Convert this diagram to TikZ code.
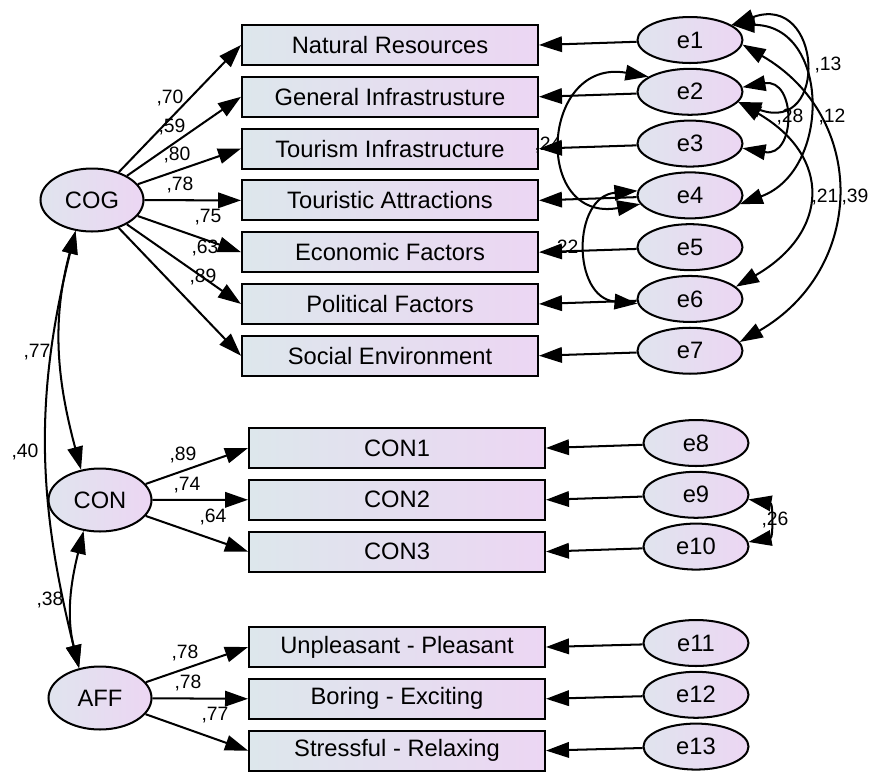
\documentclass[tikz,border=0pt]{standalone}
\usepackage{fontspec}
\setmainfont{Liberation Sans}
\usetikzlibrary{arrows.meta,positioning,shapes.geometric}

\definecolor{boxleft}{RGB}{221,231,236}
\definecolor{boxright}{RGB}{236,214,243}
\definecolor{ellleft}{RGB}{224,228,238}
\definecolor{ellright}{RGB}{236,214,243}

\begin{document}
\begin{tikzpicture}[x=0.02cm, y=0.02cm, ->, >={Triangle[length=0.46cm,width=0.31cm]}, line width=1.15pt, node distance=1.036cm,
  obs/.style = {draw, rectangle, minimum width=5.92cm, minimum height=0.8cm, left color=boxleft, right color=boxright, font=\fontsize{13.5}{16}\selectfont},
  lat/.style = {draw, ellipse, minimum width=2.06cm, minimum height=1.26cm, inner sep=0pt, left color=ellleft, right color=ellright, font=\fontsize{13.5}{16}\selectfont},
  err/.style = {draw, ellipse, minimum width=2.1cm, minimum height=0.92cm, inner sep=0pt, left color=ellleft, right color=ellright, font=\fontsize{13.5}{16}\selectfont},
  lbl/.style = {inner sep=0pt, font=\fontsize{11}{12}\selectfont}]

\useasboundingbox (0,0) rectangle (870,-772);

% latent factors
\node[lat] (cog) at (92,-200) {COG};
\node[lat] (con) at (100,-500) {CON};
\node[lat] (aff) at (100,-698) {AFF};

% indicators
\node[obs] (nr) at (390,-45) {Natural Resources};
\node[obs] (gi) [below of=nr] {General Infrastrusture};
\node[obs] (ti) [below of=gi] {Tourism Infrastructure};
\node[obs] (ta) [below of=ti] {Touristic Attractions};
\node[obs] (ef) [below of=ta] {Economic Factors};
\node[obs] (pf) [below of=ef] {Political Factors};
\node[obs] (se) [below of=pf] {Social Environment};

\node[obs] (con1) at (397,-448) {CON1};
\node[obs] (con2) [below of=con1] {CON2};
\node[obs] (con3) [below of=con2] {CON3};

\node[obs] (up) at (397,-647) {Unpleasant - Pleasant};
\node[obs] (be) [below of=up] {Boring - Exciting};
\node[obs] (sr) [below of=be] {Stressful - Relaxing};

% errors
\node[err] (e1) at (690,-40) {e1};
\node[err] (e2) [below of=e1] {e2};
\node[err] (e3) [below of=e2] {e3};
\node[err] (e4) [below of=e3] {e4};
\node[err] (e5) [below of=e4] {e5};
\node[err] (e6) [below of=e5] {e6};
\node[err] (e7) [below of=e6] {e7};

\node[err] (e8) at (696,-443) {e8};
\node[err] (e9) [below of=e8] {e9};
\node[err] (e10) [below of=e9] {e10};

\node[err] (e11) at (696,-643) {e11};
\node[err] (e12) [below of=e11] {e12};
\node[err] (e13) [below of=e12] {e13};

% loadings
\path (cog) edge (nr.west);
\path (cog) edge (gi.west);
\path (cog) edge (ti.west);
\path (cog) edge (ta.west);
\path (cog) edge (ef.west);
\path (cog) edge (pf.west);
\path (cog) edge (se.west);

\path (con) edge (con1.west);
\path (con) edge (con2.west);
\path (con) edge (con3.west);

\path (aff) edge (up.west);
\path (aff) edge (be.west);
\path (aff) edge (sr.west);

\path (e1) edge (nr.east);
\path (e2) edge (gi.east);
\path (e3) edge (ti.east);
\path (e4) edge (ta.east);
\path (e5) edge (ef.east);
\path (e6) edge (pf.east);
\path (e7) edge (se.east);
\path (e8) edge (con1.east);
\path (e9) edge (con2.east);
\path (e10) edge (con3.east);
\path (e11) edge (up.east);
\path (e12) edge (be.east);
\path (e13) edge (sr.east);

% covariances
\path (cog.-118) edge[<->, out=-105, in=105] (con.122);
\path (cog.-118) edge[<->, out=-104, in=104] (aff.125);
\path (con.-118) edge[<->, out=-104, in=104] (aff.125);

\path (e1.20) edge[<->, out=20, in=-20, looseness=3.2] (e2.-12);
\path (e2.5) edge[<->, out=10, in=-10, looseness=2.3] (e3.-5);
\path (e1.20) edge[<->, out=0, in=20, looseness=1.4] (e4.-10);
\path (e2.-12) edge[<->, out=-30, in=30, looseness=1.5] (e6.15);
\path (e1.-5) edge[<->, out=-30, in=30, looseness=1.25] (e7.10);
\path (e2.160) edge[<->, out=170, in=190, looseness=2.2] (e4.190);
\path (e4.175) edge[<->, out=185, in=175, looseness=1.5] (e6.185);
\path (e9.-5) edge[<->, out=-10, in=10, looseness=1.5] (e10.5);

% estimates
\node[lbl] (w-nr) at (170,-98) {,70};
\node[lbl] (w-gi) at (172,-127) {,59};
\node[lbl] (w-ti) at (177,-155) {,80};
\node[lbl] (w-ta) at (180,-185) {,78};
\node[lbl] (w-ef) at (208,-217) {,75};
\node[lbl] (w-pf) at (205,-248) {,63};
\node[lbl] (w-se) at (203,-277) {,89};

\node[lbl] (w-con1) at (183,-455) {,89};
\node[lbl] (w-con2) at (187,-485) {,74};
\node[lbl] (w-con3) at (213,-517) {,64};

\node[lbl] (w-up) at (185,-653) {,78};
\node[lbl] (w-be) at (188,-683) {,78};
\node[lbl] (w-sr) at (215,-715) {,77};

\node[lbl] (r-cogcon) at (37,-352) {,77};
\node[lbl] (r-cogaff) at (25,-452) {,40};
\node[lbl] (r-conaff) at (50,-600) {,38};

\node[lbl] (r-e1e2) at (828,-65) {,13};
\node[lbl] (r-e2e3) at (790,-117) {,28};
\node[lbl] (r-e1e4) at (832,-117) {,12};
\node[lbl] (r-e2e6) at (825,-197) {,21};
\node[lbl] (r-e1e7) at (855,-197) {,39};
\node[lbl] (r-e2e4) at (548,-145) {,24};
\node[lbl] (r-e4e6) at (565,-248) {,22};
\node[lbl] (r-e9e10) at (775,-520) {,26};

\end{tikzpicture}
\end{document}
